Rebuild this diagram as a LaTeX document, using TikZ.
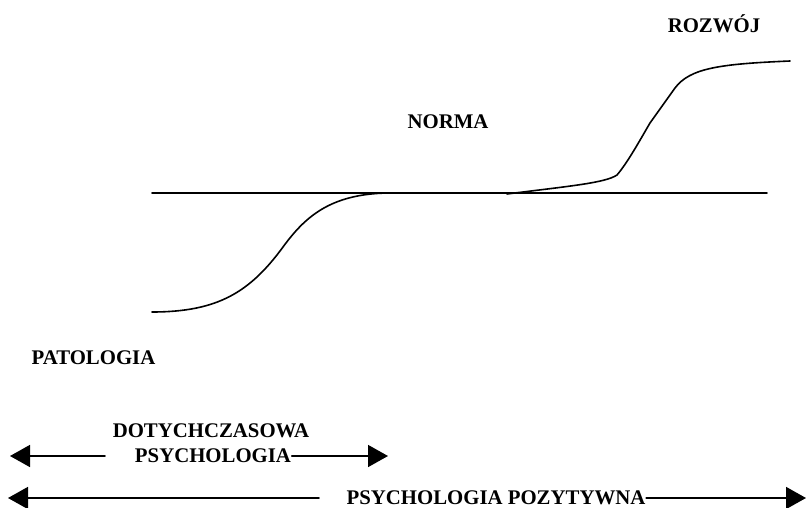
\documentclass[tikz,border=0pt]{standalone}
\usepackage{fontspec}
\setmainfont{Liberation Serif}
\usetikzlibrary{arrows.meta,positioning}

\tikzset{
  lbl/.style={font=\bfseries\fontsize{20.8}{24}\selectfont, inner sep=0pt,
              text height=13.8pt, text depth=0pt},
  arr/.style={line width=1.6pt, -{Triangle[length=20pt,width=22pt]}}
}

\begin{document}
\begin{tikzpicture}[line width=1.6pt, line cap=round, line join=round, x=1pt, y=-1pt]
  \useasboundingbox (0,0) rectangle (806,508);

  % labels of the three levels
  \node[lbl] (rozwoj)    at (714,26)  {ROZWÓJ};
  \node[lbl] (norma)     at (448,122) {NORMA};
  \node[lbl] (patologia) at (93.5,358) {PATOLOGIA};

  % the norm line and the two curves
  \coordinate (normL) at (152,193);
  \coordinate (normR) at (767,193);
  \draw (normL) -- (normR);
  \draw (152,312) .. controls (218,312) and (250,292) .. (283,247)
                  .. controls (305,217) and (330,194) .. (388,193);
  \draw (507,194) .. controls (570,186) and (605,183) .. (617,175)
                  .. controls (628,162) and (640,140) .. (650,123)
                  -- (675,88)
                  .. controls (690,68) and (720,64) .. (790,61);

  % the two ranges
  \node[lbl] (dotych) at (211,431) {DOTYCHCZASOWA};
  \node[lbl] (psych)  at (213,456) {PSYCHOLOGIA};
  \coordinate (psychL)    at (105,456);
  \coordinate (psychTipL) at (10,456);
  \coordinate (psychTipR) at (388,456);
  \draw[arr] (psychL) -- (psychTipL);
  \draw[arr] (psych.east) -- (psychTipR);

  \node[lbl] (pozyt) at (496,498) {PSYCHOLOGIA POZYTYWNA};
  \coordinate (pozytL)    at (319,498);
  \coordinate (pozytTipL) at (8,498);
  \coordinate (pozytTipR) at (806,498);
  \draw[arr] (pozytL) -- (pozytTipL);
  \draw[arr] (pozyt.east) -- (pozytTipR);
\end{tikzpicture}
\end{document}
